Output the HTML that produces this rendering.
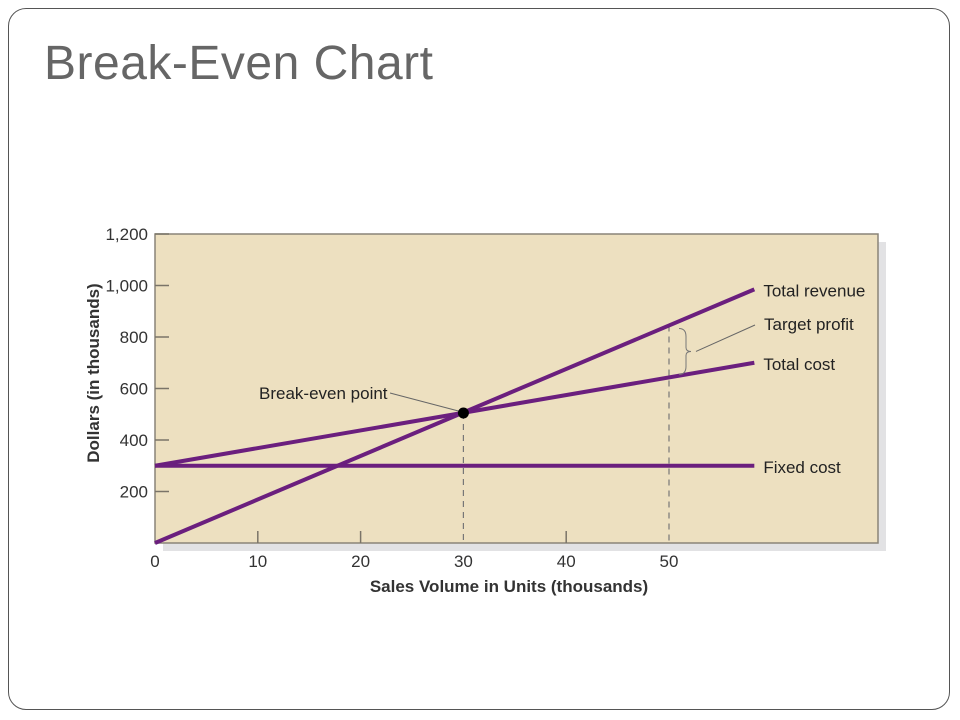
<!DOCTYPE html>
<html><head><meta charset="utf-8">
<style>
body{margin:0;background:#fff;width:960px;height:720px;overflow:hidden;font-family:"Liberation Sans",sans-serif}
#frame{position:absolute;left:8px;top:8px;width:942px;height:702px;border:1.5px solid #555;border-radius:18px;box-sizing:border-box}
#title{position:absolute;left:44px;top:36px;font-size:48px;color:#666;font-family:"Liberation Sans",sans-serif;letter-spacing:0.5px}
svg{position:absolute;left:0;top:0}
text{font-family:"Liberation Sans",sans-serif}
</style></head><body>
<div id="frame"></div>
<div id="title">Break-Even Chart</div>
<svg id="chart" width="960" height="720"></svg>
<script>
const xTicks=[0,10,20,30,40,50];
const yTicks=[200,400,600,800,1000,1200];
const yTickLabels=["200","400","600","800","1,000","1,200"];
const seriesNames=["Total revenue","Total cost","Fixed cost"];
const seriesX=[0,58.3];
const revenue=[0,985];
const totalCost=[300,700];
const fixedCost=[300,300];
const breakEven=[30,505];
const targetX=50;

const L=155,R=878,T=234,B=543;
const xs=v=>L+v*10.28;
const ys=v=>B-v*(B-T)/1200;
const svg=document.getElementById('chart');
const NS='http://www.w3.org/2000/svg';
function mk(tag,attrs,parent){const e=document.createElementNS(NS,tag);for(const k in attrs)e.setAttribute(k,attrs[k]);(parent||svg).appendChild(e);return e;}

let e=mk('rect',{x:L+8,y:T+8,width:R-L,height:B-T,fill:'#e2e2e4'});


e=mk('rect',{x:L,y:T,width:R-L,height:B-T,fill:'#ede0c0',stroke:'#8a8478','stroke-width':1.5});



yTicks.forEach((v,i)=>{
 const t=mk('line',{x1:L,x2:L+14,y1:ys(v),y2:ys(v),stroke:'#7a7468','stroke-width':1.5});
 
 
 const l=mk('text',{x:L-7,y:ys(v)+6,'text-anchor':'end','font-size':17,fill:'#333'});
 l.textContent=yTickLabels[i];
 
 
});
xTicks.forEach(v=>{
 if(v>0&&v!==30&&v!==50){
  const t=mk('line',{x1:xs(v),x2:xs(v),y1:B,y2:B-12,stroke:'#7a7468','stroke-width':1.5});
  
  
 }
 const l=mk('text',{x:xs(v),y:B+24,'text-anchor':'middle','font-size':17,fill:'#333'});
 l.textContent=String(v);
 
 
});

e=mk('text',{x:509,y:592,'text-anchor':'middle','font-size':17,'font-weight':'bold',fill:'#333'});
e.textContent='Sales Volume in Units (thousands)';


e=mk('text',{x:0,y:0,'text-anchor':'middle','font-size':17,'font-weight':'bold',fill:'#333',transform:`translate(99,373) rotate(-90)`});
e.textContent='Dollars (in thousands)';



e=mk('line',{x1:xs(breakEven[0]),x2:xs(breakEven[0]),y1:ys(breakEven[1]),y2:B,stroke:'#777','stroke-width':1.2,'stroke-dasharray':'6,5'});


const revAt=x=>revenue[0]+(revenue[1]-revenue[0])*(x-seriesX[0])/(seriesX[1]-seriesX[0]);
const costAt=x=>totalCost[0]+(totalCost[1]-totalCost[0])*(x-seriesX[0])/(seriesX[1]-seriesX[0]);
e=mk('line',{x1:xs(targetX),x2:xs(targetX),y1:ys(revAt(targetX)),y2:B,stroke:'#777','stroke-width':1.2,'stroke-dasharray':'6,5'});



const series=[revenue,totalCost,fixedCost];
series.forEach((s,i)=>{
 const ln=mk('line',{x1:xs(seriesX[0]),y1:ys(s[0]),x2:xs(seriesX[1]),y2:ys(s[1]),stroke:'#6b1f7e','stroke-width':4});
 
 
 const l=mk('text',{x:xs(seriesX[1])+9,y:ys(s[1])+7,'font-size':17,fill:'#222'});
 l.textContent=seriesNames[i];
 
 
});

const bx=xs(targetX)+10, by1=ys(revAt(targetX))+3, by2=ys(costAt(targetX))-3, bm=(by1+by2)/2;
e=mk('path',{d:`M${bx},${by1} Q${bx+7},${by1} ${bx+7},${by1+8} L${bx+7},${bm-4} Q${bx+7},${bm} ${bx+12},${bm} Q${bx+7},${bm} ${bx+7},${bm+4} L${bx+7},${by2-8} Q${bx+7},${by2} ${bx},${by2}`,fill:'none',stroke:'#777','stroke-width':1});


e=mk('line',{x1:bx+17,y1:bm,x2:755,y2:325,stroke:'#666','stroke-width':1});


e=mk('text',{x:764,y:330,'font-size':17,fill:'#222'});
e.textContent='Target profit';



e=mk('line',{x1:390,y1:393,x2:xs(breakEven[0])-5,y2:ys(breakEven[1])-2,stroke:'#666','stroke-width':1});


e=mk('circle',{cx:xs(breakEven[0]),cy:ys(breakEven[1]),r:5.5,fill:'#000'});


e=mk('text',{x:259,y:399,'font-size':17,fill:'#222'});
e.textContent='Break-even point';


</script>
</body></html>
